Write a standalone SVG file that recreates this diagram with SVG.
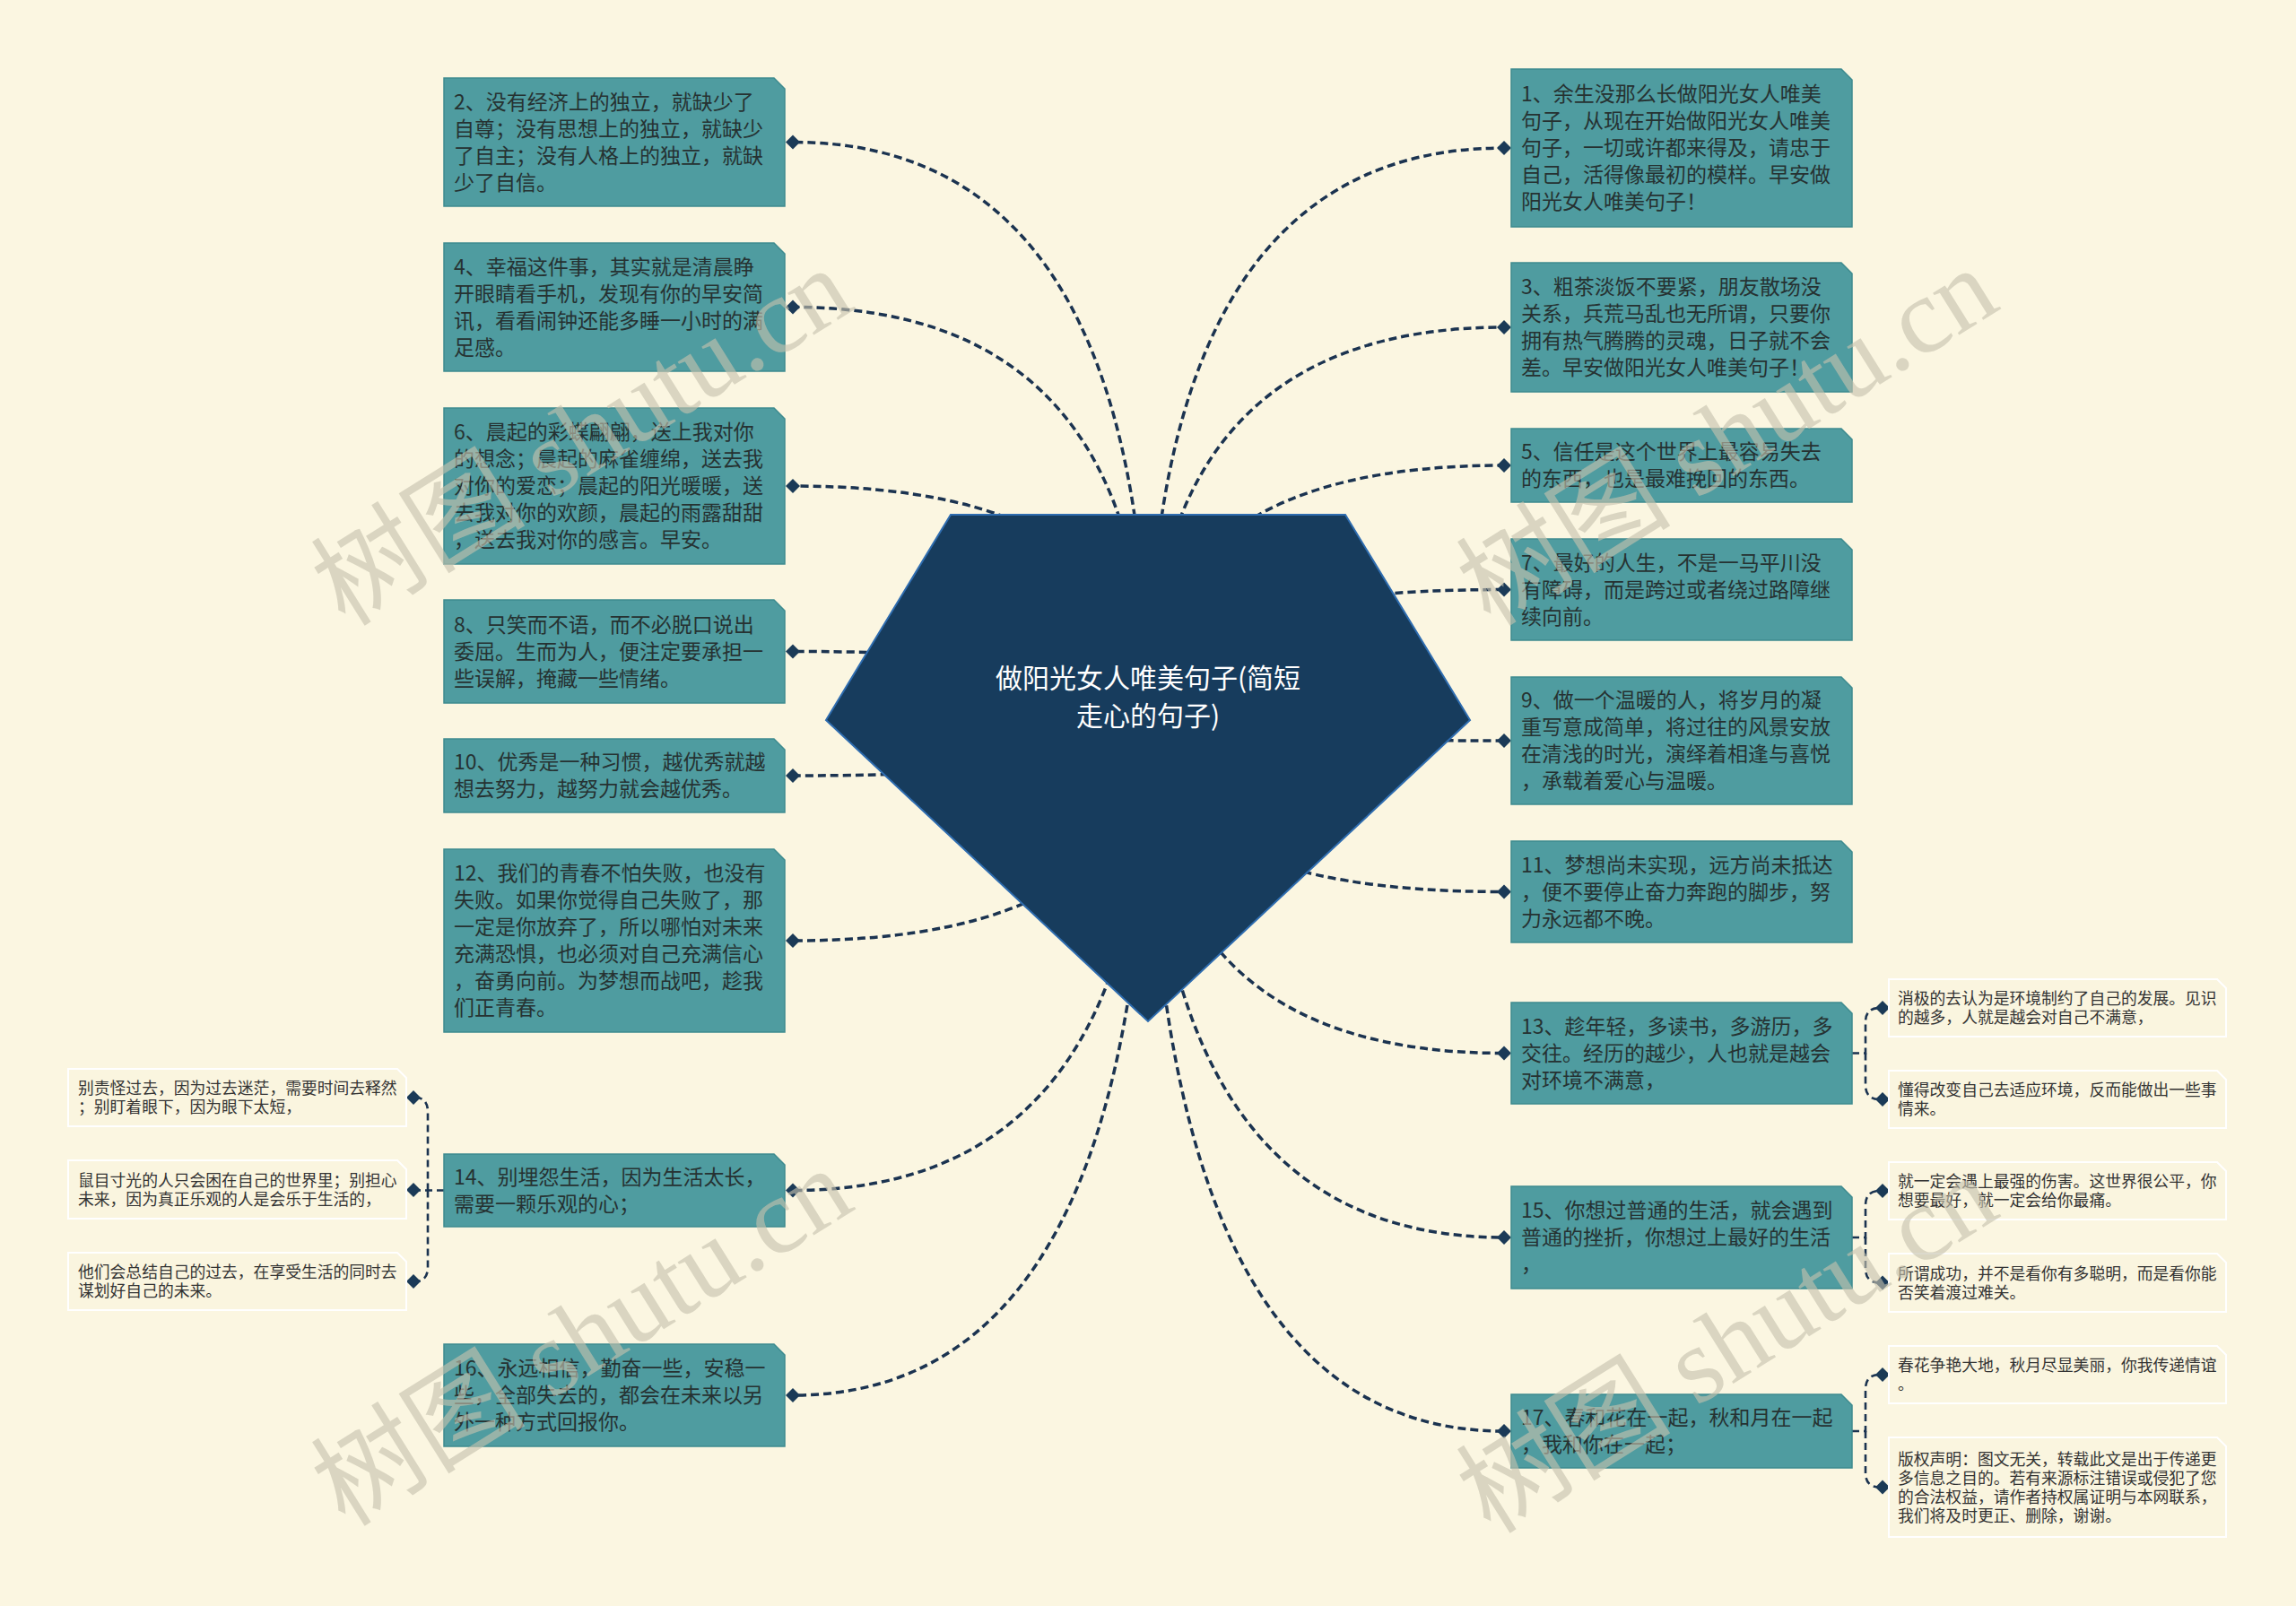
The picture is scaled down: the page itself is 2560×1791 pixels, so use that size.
<svg xmlns="http://www.w3.org/2000/svg" width="2560" height="1791" viewBox="0 0 2560 1791">
<style>
.bg{fill:#fbf6e1}
.box{fill:#4f9ca0;stroke:#3e8b8f;stroke-width:1.5}
.sub{fill:#faf5df;stroke:#ffffff;stroke-width:2}
.t{font-family:"Noto Sans CJK SC","Noto Sans",sans-serif;font-size:23px;fill:#263232}
.s{font-family:"Noto Sans CJK SC","Noto Sans",sans-serif;font-size:17.8px;fill:#333333}
.c{font-family:"Noto Sans CJK SC","Noto Sans",sans-serif;font-size:30px;fill:#ffffff;text-anchor:middle}
.ln{fill:none;stroke:#1b3350;stroke-width:3.5;stroke-dasharray:9 5}
.br{fill:none;stroke:#1b3350;stroke-width:2.6;stroke-dasharray:8 5}
.dm{fill:#1b3a57}
.wm{font-family:"Liberation Serif","Noto Sans CJK SC",serif;font-size:120px;fill:#c6c2ae;opacity:0.62}
</style>
<defs>
<path id="d" d="M-8,0 L0,-8 L8,0 L0,8 Z"/>
</defs>
<rect class="bg" x="0" y="0" width="2560" height="1791"/>

<g id="connectors">
<path class="ln" d="M1280,800 Q1280,158.5 884,158.5"/>
<path class="ln" d="M1280,800 Q1280,342.5 884,342.5"/>
<path class="ln" d="M1280,800 Q1280,542 884,542"/>
<path class="ln" d="M1280,800 Q1280,726.5 884,726.5"/>
<path class="ln" d="M1280,800 Q1280,865 884,865"/>
<path class="ln" d="M1280,800 Q1280,1049 884,1049"/>
<path class="ln" d="M1280,800 Q1280,1327.5 884,1327.5"/>
<path class="ln" d="M1280,800 Q1280,1556 884,1556"/>
<path class="ln" d="M1280,800 Q1280,165 1677,165"/>
<path class="ln" d="M1280,800 Q1280,365 1677,365"/>
<path class="ln" d="M1280,800 Q1280,519 1677,519"/>
<path class="ln" d="M1280,800 Q1280,657.5 1677,657.5"/>
<path class="ln" d="M1280,800 Q1280,826 1677,826"/>
<path class="ln" d="M1280,800 Q1280,994.5 1677,994.5"/>
<path class="ln" d="M1280,800 Q1280,1174.5 1677,1174.5"/>
<path class="ln" d="M1280,800 Q1280,1380 1677,1380"/>
<path class="ln" d="M1280,800 Q1280,1596 1677,1596"/>
<path class="br" d="M495,1327.5 H462"/>
<path class="br" d="M477,1327.5 V1240 Q477,1224 463,1224"/>
<path class="br" d="M477,1327.5 V1413 Q477,1429 463,1429"/>
<path class="br" d="M2065,1174.5 H2080 V1140 Q2080,1124 2096,1124"/>
<path class="br" d="M2080,1174.5 V1210 Q2080,1226 2096,1226"/>
<path class="br" d="M2065,1380 H2080 V1344 Q2080,1328 2096,1328"/>
<path class="br" d="M2080,1380 V1414.5 Q2080,1430.5 2096,1430.5"/>
<path class="br" d="M2065,1596 H2080 V1549 Q2080,1533 2096,1533"/>
<path class="br" d="M2080,1596 V1642.5 Q2080,1658.5 2096,1658.5"/>
<g class="dm">
<use href="#d" x="884" y="158.5"/><use href="#d" x="884" y="342.5"/><use href="#d" x="884" y="542"/><use href="#d" x="884" y="726.5"/>
<use href="#d" x="884" y="865"/><use href="#d" x="884" y="1049"/><use href="#d" x="884" y="1327.5"/><use href="#d" x="884" y="1556"/>
<use href="#d" x="1677" y="165"/><use href="#d" x="1677" y="365"/><use href="#d" x="1677" y="519"/><use href="#d" x="1677" y="657.5"/>
<use href="#d" x="1677" y="826"/><use href="#d" x="1677" y="994.5"/><use href="#d" x="1677" y="1174.5"/><use href="#d" x="1677" y="1380"/><use href="#d" x="1677" y="1596"/>
<use href="#d" x="461" y="1224"/><use href="#d" x="461" y="1327"/><use href="#d" x="461" y="1429"/>
<use href="#d" x="2099" y="1124"/><use href="#d" x="2099" y="1226"/><use href="#d" x="2099" y="1328"/><use href="#d" x="2099" y="1430.5"/><use href="#d" x="2099" y="1533"/><use href="#d" x="2099" y="1658.5"/>
</g>
</g>

<g id="center">
<polygon points="1060,574 1500,574 1639,803 1280,1139 921,803" fill="#173c5d" stroke="#2f6db0" stroke-width="2"/>
<text class="c" x="1280" y="767">做阳光女人唯美句子(简短</text>
<text class="c" x="1280" y="809">走心的句子)</text>
</g>

<g id="n2"><polygon class="box" points="495,87 863,87 875,99 875,230 495,230"/>
<text class="t" x="506" y="121.5">2、没有经济上的独立，就缺少了</text><text class="t" x="506" y="151.5">自尊；没有思想上的独立，就缺少</text><text class="t" x="506" y="181.5">了自主；没有人格上的独立，就缺</text><text class="t" x="506" y="211.5">少了自信。</text></g>
<g id="n4"><polygon class="box" points="495,271 863,271 875,283 875,414 495,414"/>
<text class="t" x="506" y="305.5">4、幸福这件事，其实就是清晨睁</text><text class="t" x="506" y="335.5">开眼睛看手机，发现有你的早安简</text><text class="t" x="506" y="365.5">讯，看看闹钟还能多睡一小时的满</text><text class="t" x="506" y="395.5">足感。</text></g>
<g id="n6"><polygon class="box" points="495,455 863,455 875,467 875,629 495,629"/>
<text class="t" x="506" y="490">6、晨起的彩蝶翩翩，送上我对你</text><text class="t" x="506" y="520">的想念；晨起的麻雀缠绵，送去我</text><text class="t" x="506" y="550">对你的爱恋；晨起的阳光暖暖，送</text><text class="t" x="506" y="580">去我对你的欢颜，晨起的雨露甜甜</text><text class="t" x="506" y="610">，送去我对你的感言。早安。</text></g>
<g id="n8"><polygon class="box" points="495,669 863,669 875,681 875,784 495,784"/>
<text class="t" x="506" y="704.5">8、只笑而不语，而不必脱口说出</text><text class="t" x="506" y="734.5">委屈。生而为人，便注定要承担一</text><text class="t" x="506" y="764.5">些误解，掩藏一些情绪。</text></g>
<g id="n10"><polygon class="box" points="495,824 863,824 875,836 875,906 495,906"/>
<text class="t" x="506" y="858">10、优秀是一种习惯，越优秀就越</text><text class="t" x="506" y="888">想去努力，越努力就会越优秀。</text></g>
<g id="n12"><polygon class="box" points="495,947 863,947 875,959 875,1151 495,1151"/>
<text class="t" x="506" y="982">12、我们的青春不怕失败，也没有</text><text class="t" x="506" y="1012">失败。如果你觉得自己失败了，那</text><text class="t" x="506" y="1042">一定是你放弃了，所以哪怕对未来</text><text class="t" x="506" y="1072">充满恐惧，也必须对自己充满信心</text><text class="t" x="506" y="1102">，奋勇向前。为梦想而战吧，趁我</text><text class="t" x="506" y="1132">们正青春。</text></g>
<g id="n14"><polygon class="box" points="495,1287 863,1287 875,1299 875,1368 495,1368"/>
<text class="t" x="506" y="1320.5">14、别埋怨生活，因为生活太长，</text><text class="t" x="506" y="1350.5">需要一颗乐观的心；</text></g>
<g id="n16"><polygon class="box" points="495,1499 863,1499 875,1511 875,1613 495,1613"/>
<text class="t" x="506" y="1534">16、永远相信，勤奋一些，安稳一</text><text class="t" x="506" y="1564">些，全部失去的，都会在未来以另</text><text class="t" x="506" y="1594">外一种方式回报你。</text></g>

<g id="n1"><polygon class="box" points="1685,77 2053,77 2065,89 2065,253 1685,253"/>
<text class="t" x="1696" y="113">1、余生没那么长做阳光女人唯美</text><text class="t" x="1696" y="143">句子，从现在开始做阳光女人唯美</text><text class="t" x="1696" y="173">句子，一切或许都来得及，请忠于</text><text class="t" x="1696" y="203">自己，活得像最初的模样。早安做</text><text class="t" x="1696" y="233">阳光女人唯美句子！</text></g>
<g id="n3"><polygon class="box" points="1685,293 2053,293 2065,305 2065,437 1685,437"/>
<text class="t" x="1696" y="328">3、粗茶淡饭不要紧，朋友散场没</text><text class="t" x="1696" y="358">关系，兵荒马乱也无所谓，只要你</text><text class="t" x="1696" y="388">拥有热气腾腾的灵魂，日子就不会</text><text class="t" x="1696" y="418">差。早安做阳光女人唯美句子！</text></g>
<g id="n5"><polygon class="box" points="1685,478 2053,478 2065,490 2065,560 1685,560"/>
<text class="t" x="1696" y="512">5、信任是这个世界上最容易失去</text><text class="t" x="1696" y="542">的东西，也是最难挽回的东西。</text></g>
<g id="n7"><polygon class="box" points="1685,601 2053,601 2065,613 2065,714 1685,714"/>
<text class="t" x="1696" y="635.5">7、最好的人生，不是一马平川没</text><text class="t" x="1696" y="665.5">有障碍，而是跨过或者绕过路障继</text><text class="t" x="1696" y="695.5">续向前。</text></g>
<g id="n9"><polygon class="box" points="1685,755 2053,755 2065,767 2065,897 1685,897"/>
<text class="t" x="1696" y="789">9、做一个温暖的人，将岁月的凝</text><text class="t" x="1696" y="819">重写意成简单，将过往的风景安放</text><text class="t" x="1696" y="849">在清浅的时光，演绎着相逢与喜悦</text><text class="t" x="1696" y="879">，承载着爱心与温暖。</text></g>
<g id="n11"><polygon class="box" points="1685,938 2053,938 2065,950 2065,1051 1685,1051"/>
<text class="t" x="1696" y="972.5">11、梦想尚未实现，远方尚未抵达</text><text class="t" x="1696" y="1002.5">，便不要停止奋力奔跑的脚步，努</text><text class="t" x="1696" y="1032.5">力永远都不晚。</text></g>
<g id="n13"><polygon class="box" points="1685,1118 2053,1118 2065,1130 2065,1231 1685,1231"/>
<text class="t" x="1696" y="1152.5">13、趁年轻，多读书，多游历，多</text><text class="t" x="1696" y="1182.5">交往。经历的越少，人也就是越会</text><text class="t" x="1696" y="1212.5">对环境不满意，</text></g>
<g id="n15"><polygon class="box" points="1685,1323 2053,1323 2065,1335 2065,1437 1685,1437"/>
<text class="t" x="1696" y="1358">15、你想过普通的生活，就会遇到</text><text class="t" x="1696" y="1388">普通的挫折，你想过上最好的生活</text><text class="t" x="1696" y="1418">，</text></g>
<g id="n17"><polygon class="box" points="1685,1555 2053,1555 2065,1567 2065,1637 1685,1637"/>
<text class="t" x="1696" y="1589">17、春和花在一起，秋和月在一起</text><text class="t" x="1696" y="1619">，我和你在一起；</text></g>

<g id="c14a"><polygon class="sub" points="76,1192 443,1192 453,1202 453,1256 76,1256"/>
<text class="s" x="87" y="1220">别责怪过去，因为过去迷茫，需要时间去释然</text><text class="s" x="87" y="1241">；别盯着眼下，因为眼下太短，</text></g>
<g id="c14b"><polygon class="sub" points="76,1294 443,1294 453,1304 453,1359 76,1359"/>
<text class="s" x="87" y="1322.5">鼠目寸光的人只会困在自己的世界里；别担心</text><text class="s" x="87" y="1343.5">未来，因为真正乐观的人是会乐于生活的，</text></g>
<g id="c14c"><polygon class="sub" points="76,1397 443,1397 453,1407 453,1461 76,1461"/>
<text class="s" x="87" y="1425">他们会总结自己的过去，在享受生活的同时去</text><text class="s" x="87" y="1446">谋划好自己的未来。</text></g>

<g id="c13a"><polygon class="sub" points="2106,1092 2472,1092 2482,1102 2482,1156 2106,1156"/>
<text class="s" x="2116" y="1120">消极的去认为是环境制约了自己的发展。见识</text><text class="s" x="2116" y="1141">的越多，人就是越会对自己不满意，</text></g>
<g id="c13b"><polygon class="sub" points="2106,1194 2472,1194 2482,1204 2482,1258 2106,1258"/>
<text class="s" x="2116" y="1222">懂得改变自己去适应环境，反而能做出一些事</text><text class="s" x="2116" y="1243">情来。</text></g>
<g id="c15a"><polygon class="sub" points="2106,1296 2472,1296 2482,1306 2482,1360 2106,1360"/>
<text class="s" x="2116" y="1324">就一定会遇上最强的伤害。这世界很公平，你</text><text class="s" x="2116" y="1345">想要最好，就一定会给你最痛。</text></g>
<g id="c15b"><polygon class="sub" points="2106,1398 2472,1398 2482,1408 2482,1463 2106,1463"/>
<text class="s" x="2116" y="1426.5">所谓成功，并不是看你有多聪明，而是看你能</text><text class="s" x="2116" y="1447.5">否笑着渡过难关。</text></g>
<g id="c17a"><polygon class="sub" points="2106,1501 2472,1501 2482,1511 2482,1565 2106,1565"/>
<text class="s" x="2116" y="1529">春花争艳大地，秋月尽显美丽，你我传递情谊</text><text class="s" x="2116" y="1550">。</text></g>
<g id="c17b"><polygon class="sub" points="2106,1603 2472,1603 2482,1613 2482,1714 2106,1714"/>
<text class="s" x="2116" y="1633.5">版权声明：图文无关，转载此文是出于传递更</text><text class="s" x="2116" y="1654.5">多信息之目的。若有来源标注错误或侵犯了您</text><text class="s" x="2116" y="1675.5">的合法权益，请作者持权属证明与本网联系，</text><text class="s" x="2116" y="1696.5">我们将及时更正、删除，谢谢。</text></g>

<g id="watermark">
<text class="wm" transform="translate(385,700) rotate(-32)">树图 shutu.cn</text>
<text class="wm" transform="translate(1662,700) rotate(-32)">树图 shutu.cn</text>
<text class="wm" transform="translate(385,1704) rotate(-32)">树图 shutu.cn</text>
<text class="wm" transform="translate(1662,1712) rotate(-32)">树图 shutu.cn</text>
</g>
</svg>
